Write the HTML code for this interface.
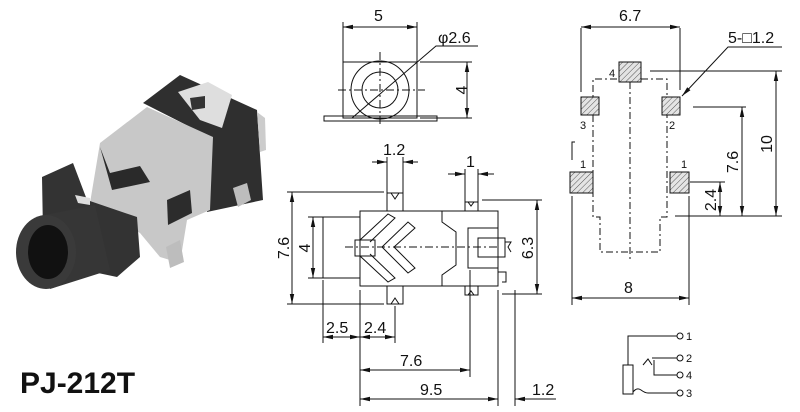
<!DOCTYPE html>
<html><head><meta charset="utf-8"><style>
html,body{margin:0;padding:0;background:#fff}
svg{display:block}
text{font-family:"Liberation Sans",sans-serif;fill:#111}
</style></head><body>
<svg width="800" height="412" viewBox="0 0 800 412" xmlns="http://www.w3.org/2000/svg">
<defs>
<marker id="a" markerWidth="10" markerHeight="6" refX="10" refY="3" orient="auto-start-reverse" markerUnits="userSpaceOnUse"><path d="M0,0.8 L10,3 L0,5.2 Z" fill="#111"/></marker>
<pattern id="h" width="4" height="4" patternUnits="userSpaceOnUse" patternTransform="rotate(45)"><rect width="4" height="4" fill="#e4e4e4"/><line x1="0" y1="0" x2="0" y2="4" stroke="#555" stroke-width="1"/></pattern>
</defs>

<!-- photo -->
<g>
<polygon points="143,103 180,75 257,110 263,200 207,212 210,137" fill="#2f2f2f"/>
<polygon points="178,92 208,82 232,95 222,128 200,120" fill="#dedede"/>
<polygon points="190,98 205,96 205,108 192,110" fill="#333"/>
<polygon points="257,112 265,118 266,150 260,152" fill="#ccc"/>
<polygon points="100,143 147,107 213,137 210,210 187,220 180,263 160,257 140,233 90,203" fill="#c8c8c8"/>
<polygon points="100,147 110,173 140,166 150,182 112,190" fill="#2a2a2a"/>
<polygon points="167,200 190,190 192,213 168,225" fill="#2c2c2c"/>
<polygon points="233,188 247,183 251,200 238,207" fill="#bdbdbd"/>
<polygon points="166,247 180,240 184,262 170,268" fill="#bdbdbd"/>
<polygon points="42,177 73,163 87,200 137,217 140,257 117,277 60,265 43,233" fill="#333"/>
<polygon points="75,195 90,198 90,205 78,203" fill="#ddd"/>
<polygon points="40,216 95,205 110,270 50,289" fill="#363636"/>
<ellipse cx="46" cy="252" rx="30" ry="37" fill="#3a3a3a"/>
<ellipse cx="48" cy="252" rx="20" ry="27" fill="#111"/>
</g>
<text x="20" y="393" font-size="30" font-weight="bold">PJ-212T</text>

<g stroke="#111" stroke-width="1" fill="none">
<!-- top view -->
<rect x="343" y="62" width="74" height="56"/>
<rect x="324" y="116" width="113" height="5"/>
<circle cx="380" cy="90" r="29"/>
<circle cx="380" cy="90" r="18"/>
<line x1="338" y1="90" x2="425" y2="90" stroke-dasharray="8,3,2,3"/>
<line x1="380" y1="52" x2="380" y2="126" stroke-dasharray="8,3,2,3"/>
<line x1="343" y1="22" x2="343" y2="62"/><line x1="417" y1="22" x2="417" y2="62"/>
<line x1="343" y1="27" x2="417" y2="27" marker-start="url(#a)" marker-end="url(#a)"/>
<polyline points="478,46 436,46 352,118"/>
<line x1="420" y1="62" x2="472" y2="62"/><line x1="420" y1="118" x2="472" y2="118"/>
<line x1="467" y1="62" x2="467" y2="118" marker-start="url(#a)" marker-end="url(#a)"/>

<!-- side view -->
<rect x="360" y="211" width="138" height="75"/>
<rect x="323" y="217" width="37" height="61"/>
<polyline points="442,211 442,222 456,232 456,265 442,275 442,286"/>
<rect x="468" y="228" width="30" height="40"/>
<rect x="478" y="238" width="27" height="19"/>
<path d="M505,242 l6,0 l-3,5 l3,5"/>
<path d="M498,272 h8 v10 h-4"/>
<rect x="387" y="193" width="16" height="18"/><path d="M391,193 l4,6 l4,-6"/>
<rect x="387" y="286" width="16" height="18"/><path d="M391,304 l4,-6 l4,6"/>
<rect x="465" y="202" width="13" height="9"/><path d="M468,202 l3,4 l3,-4"/>
<rect x="465" y="286" width="13" height="9"/><path d="M468,295 l3,-4 l3,4"/>
<rect x="355" y="240" width="20" height="16"/>
<path d="M360,240 L388,214 L395,218 L370,242 M360,256 L388,282 L395,278 L370,254"/>
<path d="M382,247 L408,222 L415,228 L394,247 L415,268 L408,273 Z"/>
<line x1="345" y1="247" x2="500" y2="247" stroke-dasharray="8,3,2,3"/>
<!-- side dims -->
<line x1="387" y1="157" x2="387" y2="193"/><line x1="403" y1="157" x2="403" y2="193"/>
<line x1="372" y1="162" x2="387" y2="162" marker-end="url(#a)"/><line x1="418" y1="162" x2="403" y2="162" marker-end="url(#a)"/>
<line x1="465" y1="169" x2="465" y2="202"/><line x1="478" y1="169" x2="478" y2="202"/>
<line x1="448" y1="174" x2="465" y2="174" marker-end="url(#a)"/><line x1="494" y1="174" x2="478" y2="174" marker-end="url(#a)"/>
<line x1="287" y1="192" x2="384" y2="192"/><line x1="287" y1="304" x2="384" y2="304"/>
<line x1="292" y1="192" x2="292" y2="304" marker-start="url(#a)" marker-end="url(#a)"/>
<line x1="308" y1="217" x2="323" y2="217"/><line x1="308" y1="278" x2="323" y2="278"/>
<line x1="313" y1="217" x2="313" y2="278" marker-start="url(#a)" marker-end="url(#a)"/>
<line x1="482" y1="200" x2="542" y2="200"/><line x1="502" y1="294" x2="542" y2="294"/>
<line x1="537" y1="200" x2="537" y2="294" marker-start="url(#a)" marker-end="url(#a)"/>
<line x1="323" y1="280" x2="323" y2="343"/><line x1="360" y1="290" x2="360" y2="406"/><line x1="395" y1="306" x2="395" y2="343"/>
<line x1="323" y1="337" x2="360" y2="337" marker-start="url(#a)" marker-end="url(#a)"/>
<line x1="360" y1="337" x2="395" y2="337" marker-start="url(#a)" marker-end="url(#a)"/>
<line x1="470" y1="270" x2="470" y2="377"/>
<line x1="360" y1="370" x2="470" y2="370" marker-start="url(#a)" marker-end="url(#a)"/>
<line x1="498" y1="290" x2="498" y2="406"/><line x1="515" y1="290" x2="515" y2="406"/>
<line x1="360" y1="399" x2="498" y2="399" marker-start="url(#a)" marker-end="url(#a)"/>
<line x1="556" y1="399" x2="515" y2="399" marker-end="url(#a)"/>

<!-- footprint -->
<g stroke-dasharray="7,3,2,3">
<polyline points="617,79 593,79 593,97"/><polyline points="641,79 667,79 667,97"/>
<polyline points="593,115 593,217 600,217 600,252 660,252 660,217 667,217 667,115"/>
<line x1="630" y1="82" x2="630" y2="260"/>
</g>
<rect x="619" y="62" width="22" height="20" fill="url(#h)"/>
<rect x="581" y="97" width="18" height="18" fill="url(#h)"/>
<rect x="662" y="97" width="18" height="18" fill="url(#h)"/>
<rect x="570" y="172" width="23" height="21" fill="url(#h)"/>
<rect x="670" y="172" width="19" height="21" fill="url(#h)"/>
<polyline points="575,142 572,142 572,160"/>
<line x1="581" y1="28" x2="581" y2="92"/><line x1="680" y1="28" x2="680" y2="90"/>
<line x1="581" y1="27" x2="680" y2="27" marker-start="url(#a)" marker-end="url(#a)"/>
<polyline points="782,47 728,47 682,96" marker-end="url(#a)"/>
<line x1="650" y1="71" x2="782" y2="71"/><line x1="675" y1="216" x2="782" y2="216"/>
<line x1="776" y1="71" x2="776" y2="216" marker-start="url(#a)" marker-end="url(#a)"/>
<line x1="693" y1="107" x2="746" y2="107"/>
<line x1="742" y1="107" x2="742" y2="216" marker-start="url(#a)" marker-end="url(#a)"/>
<line x1="690" y1="182" x2="725" y2="182"/>
<line x1="720" y1="182" x2="720" y2="216" marker-start="url(#a)" marker-end="url(#a)"/>
<line x1="572" y1="196" x2="572" y2="305"/><line x1="689" y1="196" x2="689" y2="305"/>
<line x1="572" y1="298" x2="689" y2="298" marker-start="url(#a)" marker-end="url(#a)"/>

<!-- schematic -->
<rect x="623" y="365" width="10" height="29"/>
<polyline points="628,365 628,336 677,336"/><circle cx="680" cy="336" r="3"/>
<polyline points="643,365 648,359 652,365"/><polyline points="652,358 677,358"/><circle cx="680" cy="358" r="3"/>
<polyline points="654,360 654,375 677,375"/><circle cx="680" cy="375" r="3"/>
<path d="M633,392 q4,-5 8,-2 t7,3 h29"/><circle cx="680" cy="393" r="3"/>
</g>

<g font-size="16">
<text x="374" y="21">5</text>
<text x="438" y="43">φ2.6</text>
<text x="461" y="96" transform="rotate(-90 461 90)" text-anchor="middle">4</text>
<text x="383" y="155">1.2</text>
<text x="466" y="167">1</text>
<text transform="translate(289,248) rotate(-90)" text-anchor="middle">7.6</text>
<text transform="translate(310,248) rotate(-90)" text-anchor="middle">4</text>
<text transform="translate(533,248) rotate(-90)" text-anchor="middle">6.3</text>
<text x="326" y="333">2.5</text><text x="364" y="333">2.4</text>
<text x="400" y="366">7.6</text>
<text x="420" y="395">9.5</text>
<text x="532" y="395">1.2</text>
<text x="619" y="21">6.7</text>
<text x="728" y="43">5-□1.2</text>
<text transform="translate(772,144) rotate(-90)" text-anchor="middle">10</text>
<text transform="translate(738,162) rotate(-90)" text-anchor="middle">7.6</text>
<text transform="translate(716,200) rotate(-90)" text-anchor="middle">2.4</text>
<text x="624" y="293">8</text>
</g>
<g font-size="11">
<text x="609" y="77">4</text><text x="580" y="129">3</text><text x="669" y="129">2</text>
<text x="580" y="168">1</text><text x="681" y="168">1</text>
<text x="686" y="340">1</text><text x="686" y="362">2</text><text x="686" y="379">4</text><text x="686" y="397">3</text>
</g>
</svg>
</body></html>
